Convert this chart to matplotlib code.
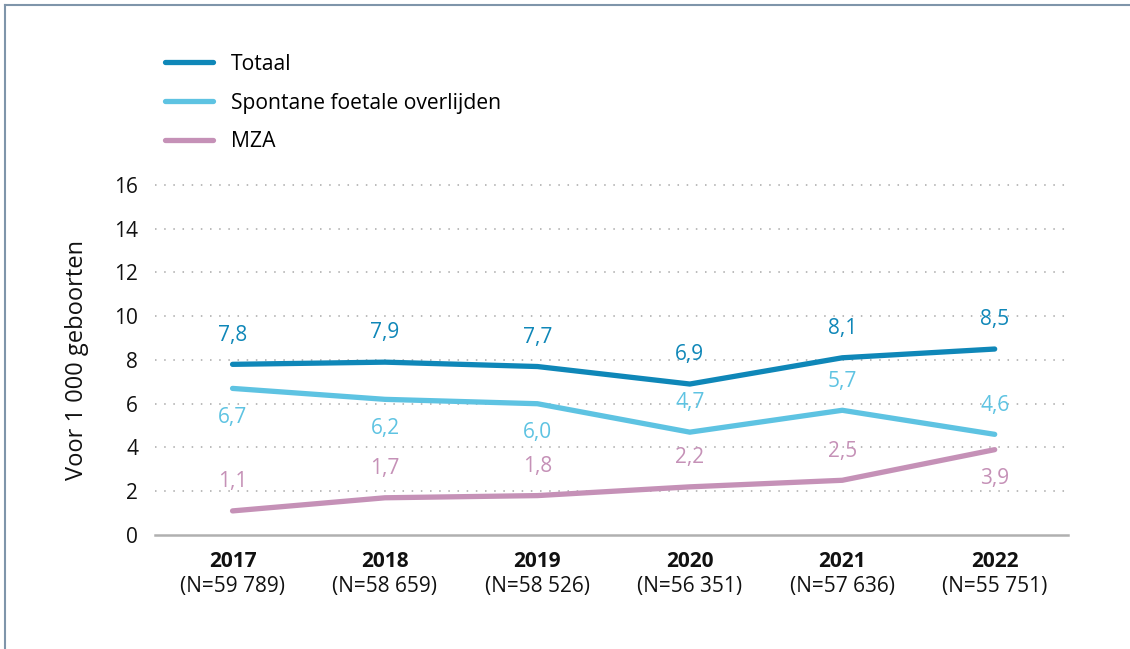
import numpy as np
import matplotlib
matplotlib.use("Agg")
import matplotlib.pyplot as plt
from matplotlib.lines import Line2D

plt.rcParams['font.family'] = ['Open Sans', 'DejaVu Sans']

years = ['2017', '2018', '2019', '2020', '2021', '2022']
births = ['(N=59 789)', '(N=58 659)', '(N=58 526)', '(N=56 351)', '(N=57 636)', '(N=55 751)']
totaal = [7.8, 7.9, 7.7, 6.9, 8.1, 8.5]
spontaan = [6.7, 6.2, 6.0, 4.7, 5.7, 4.6]
mza = [1.1, 1.7, 1.8, 2.2, 2.5, 3.9]

# label above (+1) or below (-1) the point
pos_totaal = [1, 1, 1, 1, 1, 1]
pos_spontaan = [-1, -1, -1, 1, 1, 1]
pos_mza = [1, 1, 1, 1, 1, -1]

c_tot = '#0f87b8'
c_spo = '#5ec3e2'
c_mza = '#c591b7'

fig = plt.figure(figsize=(11.30, 6.49), dpi=100)
ax = fig.add_axes([0.137, 0.1757, 0.808, 0.5393])

x = np.arange(len(years))
series = [
    ('Totaal', totaal, c_tot, pos_totaal),
    ('Spontane foetale overlijden', spontaan, c_spo, pos_spontaan),
    ('MZA', mza, c_mza, pos_mza),
]
for name, vals, col, pos in series:
    ax.plot(x, vals, color=col, lw=3.8, solid_capstyle='round',
            solid_joinstyle='round', label=name, zorder=3)
    for xi, v, p in zip(x, vals, pos):
        ax.annotate(f'{v:.1f}'.replace('.', ','), (xi, v),
                    xytext=(0, 21 * p), textcoords='offset points',
                    ha='center', va='center', fontsize=15, color=col)

ax.set_xlim(-0.51, 5.48)
ax.set_ylim(0, 16)
ax.set_yticks(range(0, 17, 2))
ax.tick_params(axis='y', length=0, pad=12, labelsize=15, labelcolor='#111111')
ax.set_xticks(x)
ax.set_xticklabels([])
ax.tick_params(axis='x', length=0)
for s in ['top', 'right', 'left', 'bottom']:
    ax.spines[s].set_visible(False)

for yv in range(2, 17, 2):
    ax.axhline(yv, color='#a8a8a8', lw=1.1, ls=(0, (1, 5)), clip_on=False, zorder=1)
ax.axhline(0, color='#b0b0b0', lw=1.8, clip_on=False, zorder=1)

tr = ax.get_xaxis_transform()
for xi, yr, n in zip(x, years, births):
    ax.text(xi, -0.075, yr, transform=tr, ha='center', va='center',
            fontsize=15, fontweight='bold', color='#111111')
    ax.text(xi, -0.148, n, transform=tr, ha='center', va='center',
            fontsize=15, color='#111111')

ax.set_ylabel('Voor 1 000 geboorten', fontsize=17, color='#111111')
ax.yaxis.set_label_coords(-0.072, 0.5)

ax.legend(loc='upper left', bbox_to_anchor=(0.1386, 0.930),
          bbox_transform=fig.transFigure, frameon=False, fontsize=15.2,
          handlelength=2.27, handletextpad=0.85, labelspacing=0.835,
          borderaxespad=0)

# figure frame (top and left)
fig.add_artist(Line2D([0.004, 1.0], [0.993, 0.993], transform=fig.transFigure,
                      color='#7f95aa', lw=1.5))
fig.add_artist(Line2D([0.0045, 0.0045], [0.0, 0.993], transform=fig.transFigure,
                      color='#7f95aa', lw=1.5))

fig.savefig('out.png', dpi=100)
